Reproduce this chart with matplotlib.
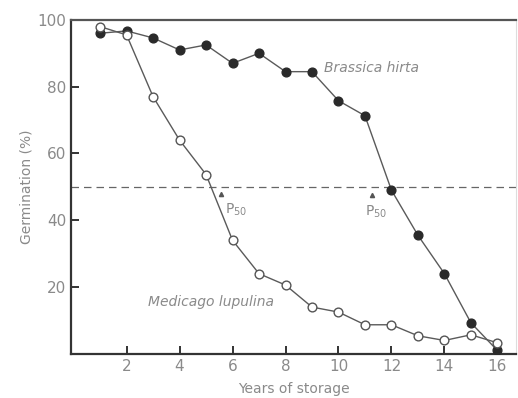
import matplotlib
matplotlib.use("Agg")
import matplotlib.pyplot as plt

years = list(range(1, 17))
brassica = [96, 96.7, 94.6, 91, 92.5, 87, 90, 84.5, 84.5, 75.8, 71.3, 49, 35.5, 24, 9.3, 1]
medicago = [98, 95.5, 77, 64, 53.7, 34, 24, 20.6, 14, 12.5, 8.7, 8.7, 5.4, 4, 5.7, 3.3]
x_ticks = [2, 4, 6, 8, 10, 12, 14, 16]
y_ticks = [20, 40, 60, 80, 100]
p50 = 50

txt = "#8a8a8a"
fig = plt.figure(figsize=(5.18, 3.98), dpi=100)
ax = fig.add_axes([0.137, 0.111, 0.859, 0.839])

ax.axhline(p50, color="#666666", lw=0.9, ls=(0, (6, 4)), zorder=1)
ax.plot(years, brassica, color="#5a5a5a", lw=1.0, marker="o", ms=6.3,
        mfc="#2a2a2a", mec="#2a2a2a", zorder=3)
ax.plot(years, medicago, color="#5a5a5a", lw=1.0, marker="o", ms=6.3,
        mfc="white", mec="#555555", mew=1.0, zorder=3)

ax.set_xlim(-0.1, 16.7)
ax.set_ylim(0, 100)
ax.set_xticks(x_ticks)
ax.set_yticks(y_ticks)
ax.tick_params(direction="in", length=6, width=1.4, colors="#333333",
               labelcolor=txt, labelsize=11)
for s in ["left", "bottom"]:
    ax.spines[s].set_linewidth(1.6)
    ax.spines[s].set_color("#333333")
ax.spines["top"].set_linewidth(1.6)
ax.spines["top"].set_color("#555555")
ax.spines["right"].set_linewidth(0.8)
ax.spines["right"].set_color("#dddddd")

ax.set_xlabel("Years of storage", color=txt, fontsize=10, labelpad=6)
ax.set_ylabel("Germination (%)", color=txt, fontsize=10, labelpad=3)

ax.text(9.45, 85.7, "Brassica hirta", style="italic", color=txt, fontsize=10,
        va="center", ha="left")
ax.text(2.79, 15.5, "Medicago lupulina", style="italic", color=txt, fontsize=10,
        va="center", ha="left")
ax.text(5.7, 43, "P$_{50}$", color=txt, fontsize=10, va="center", ha="left")
ax.text(11.0, 42.4, "P$_{50}$", color=txt, fontsize=10, va="center", ha="left")
ax.plot([5.56, 11.25], [48, 47.5], ls="none", marker="^", ms=3, color="#555555")

fig.savefig("out.png", dpi=100)
